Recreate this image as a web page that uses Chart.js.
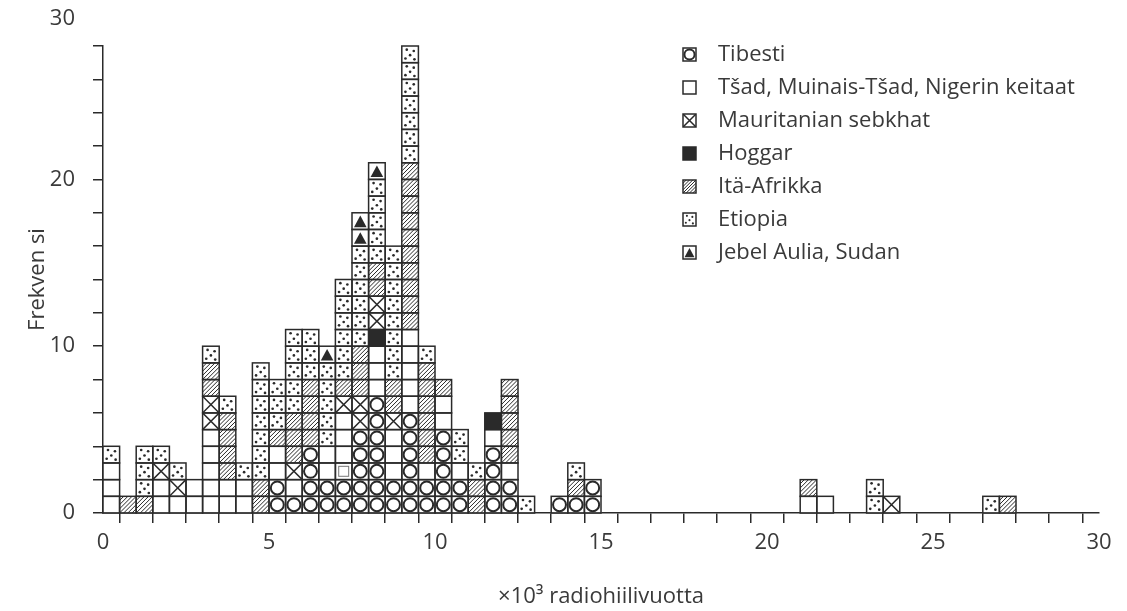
<!DOCTYPE html>
<html>
<head>
<meta charset="utf-8">
<script src="https://cdn.jsdelivr.net/npm/chart.js@4"></script>
<style>
html, body { margin: 0; padding: 0; background: #fff; }
</style>
</head>
<body>
<canvas id="graph1" width="1127" height="611"></canvas>
<script>
// sarakkeen vasen reuna (x 10^3 vuotta), leveys 0.5
var sarakkeet = [0, 0.5, 1, 1.5, 2, 2.5, 3, 3.5, 4, 4.5, 5, 5.5, 6, 6.5, 7, 7.5, 8, 8.5, 9, 9.5, 10, 10.5, 11, 11.5, 12, 12.5, 13.5, 14, 14.5, 21, 21.5, 23, 23.5, 26.5, 27];
var leveys = 0.5;

// ruutujen lukumaarat, pinottu tassa jarjestyksessa alhaalta ylos
var tibesti     = [0,0,0,0,0,0,0,0,0,0, 2,1,4,2,2,5,7,2,6,2, 5,2,0,4,2,0,1,1,2,0, 0,0,0,0,0];
var pikkuRuutu  = [0,0,0,0,0,0,0,0,0,0, 0,0,0,0,1,0,0,0,0,0, 0,0,0,0,0,0,0,0,0,0, 0,0,0,0,0];
var tsad        = [3,0,0,2,1,2,5,2,2,0, 2,1,0,2,3,0,3,3,5,1, 2,1,0,1,1,0,0,0,0,1, 1,0,0,0,0];
var hoggar      = [0,0,0,0,0,0,0,0,0,0, 0,0,0,0,0,0,1,0,0,0, 0,0,0,1,0,0,0,0,0,0, 0,0,0,0,0];
var mauritania  = [0,0,0,1,1,0,2,0,0,0, 0,1,0,0,1,2,2,1,0,0, 0,0,0,0,0,0,0,0,0,0, 0,0,1,0,0];
var itaAfrikka  = [0,1,1,0,0,0,2,4,0,2, 1,3,4,0,1,3,2,2,10,6, 1,0,2,0,5,0,0,1,0,1, 0,0,0,0,1];
var etiopia     = [1,0,3,1,1,0,1,1,1,7, 3,5,3,5,6,6,5,8,7,1, 0,2,1,0,0,1,0,1,0,0, 0,2,0,1,0];
var jebelAulia  = [0,0,0,0,0,0,0,0,0,0, 0,0,0,1,0,2,1,0,0,0, 0,0,0,0,0,0,0,0,0,0, 0,0,0,0,0];

var xTikit = [0, 5, 10, 15, 20, 25, 30];
var yTikit = [0, 10, 20, 30];

var selitteet = ['Tibesti', 'Tšad, Muinais-Tšad, Nigerin keitaat', 'Mauritanian sebkhat', 'Hoggar', 'Itä-Afrikka', 'Etiopia', 'Jebel Aulia, Sudan'];
var selitetyypit = ['O', 'W', 'X', 'F', 'H', 'D', 'T'];

var viiva = '#2a2a2a';
var teksti = '#3a3a3a';
var fontti = "'Open Sans', 'DejaVu Sans', sans-serif";
Chart.defaults.font.family = fontti;
Chart.defaults.color = teksti;

function piirraRuutu(ctx, tyyppi, x, y, w, h) {
    var cx = x + w / 2, cy = y + h / 2, m = Math.min(w, h);
    ctx.save();
    ctx.beginPath();
    ctx.rect(x, y, w, h);
    ctx.clip();
    ctx.strokeStyle = viiva;
    ctx.fillStyle = viiva;
    if (tyyppi === 'O') {
        ctx.lineWidth = 2;
        ctx.beginPath();
        ctx.arc(cx, cy, m * 0.39, 0, 2 * Math.PI);
        ctx.stroke();
    } else if (tyyppi === 'S') {
        ctx.lineWidth = 1;
        ctx.strokeStyle = '#777';
        ctx.strokeRect(cx - m * 0.3, cy - m * 0.3, m * 0.6, m * 0.6);
    } else if (tyyppi === 'F') {
        ctx.fillRect(x, y, w, h);
    } else if (tyyppi === 'X') {
        ctx.lineWidth = 1.5;
        ctx.beginPath();
        ctx.moveTo(x, y); ctx.lineTo(x + w, y + h);
        ctx.moveTo(x + w, y); ctx.lineTo(x, y + h);
        ctx.stroke();
    } else if (tyyppi === 'H') {
        ctx.lineWidth = 1;
        ctx.beginPath();
        for (var t = -h; t < w + h; t += m / 4) {
            ctx.moveTo(x + t, y + h);
            ctx.lineTo(x + t + h, y);
        }
        ctx.stroke();
    } else if (tyyppi === 'D') {
        var pisteet = [[0.3, 0.22], [0.72, 0.3], [0.5, 0.55], [0.22, 0.75], [0.76, 0.8]];
        pisteet.forEach(function (p) {
            ctx.beginPath();
            ctx.arc(x + p[0] * w, y + p[1] * h, Math.max(1, m * 0.08), 0, 2 * Math.PI);
            ctx.fill();
        });
    } else if (tyyppi === 'T') {
        ctx.beginPath();
        ctx.moveTo(x + w * 0.12, y + h * 0.86);
        ctx.lineTo(x + w * 0.88, y + h * 0.86);
        ctx.lineTo(x + w * 0.5, y + h * 0.16);
        ctx.closePath();
        ctx.fill();
    }
    ctx.restore();
    ctx.save();
    ctx.lineWidth = 1.5;
    ctx.strokeStyle = viiva;
    ctx.strokeRect(x, y, w, h);
    ctx.restore();
}

function sarja(nimi, tyyppi, arvot) {
    return {
        label: nimi,
        tyyppi: tyyppi,
        data: sarakkeet.map(function (s, i) { return { x: s + leveys / 2, y: arvot[i] || null }; }),
        backgroundColor: tyyppi === 'F' ? viiva : '#fff',
        borderWidth: 0,
        categoryPercentage: 1,
        barPercentage: 1
    };
}

var ruudut = {
    id: 'ruudut',
    afterDatasetsDraw: function (chart) {
        var ctx = chart.ctx, ys = chart.scales.y;
        chart.data.datasets.forEach(function (ds, di) {
            var meta = chart.getDatasetMeta(di);
            meta.data.forEach(function (bar, i) {
                var n = ds.data[i].y;
                if (!n) return;
                var p = bar.getProps(['x', 'base', 'width'], true);
                var alku = Math.round(ys.getValueForPixel(p.base));
                for (var k = 0; k < n; k++) {
                    var ya = ys.getPixelForValue(alku + k);
                    var yy = ys.getPixelForValue(alku + k + 1);
                    piirraRuutu(ctx, ds.tyyppi, p.x - p.width / 2, yy, p.width, ya - yy);
                }
            });
        });
    },
    afterDraw: function (chart) {
        var ctx = chart.ctx, ys = chart.scales.y;
        // ylin y-akselin teksti
        ctx.save();
        ctx.font = '22px ' + fontti;
        ctx.fillStyle = teksti;
        ctx.textAlign = 'right';
        ctx.textBaseline = 'middle';
        ctx.fillText(String(yTikit[yTikit.length - 1]), ys.right - 28, ys.getPixelForValue(ys.max) - 27);
        // selite
        var lx = 683, ly = 55, askel = 33;
        ctx.textAlign = 'left';
        selitteet.forEach(function (t, i) {
            var yk = ly + i * askel;
            piirraRuutu(ctx, selitetyypit[i], lx, yk - 7, 13, 13);
            ctx.fillStyle = teksti;
            ctx.fillText(t, lx + 35, yk);
        });
        ctx.restore();
    }
};

var ctx = document.getElementById('graph1').getContext('2d');
var config = {
    type: 'bar',
    data: {
        datasets: [
            sarja('Tibesti', 'O', tibesti),
            sarja('Tšad (pieni ruutu)', 'S', pikkuRuutu),
            sarja('Tšad, Muinais-Tšad, Nigerin keitaat', 'W', tsad),
            sarja('Hoggar', 'F', hoggar),
            sarja('Mauritanian sebkhat', 'X', mauritania),
            sarja('Itä-Afrikka', 'H', itaAfrikka),
            sarja('Etiopia', 'D', etiopia),
            sarja('Jebel Aulia, Sudan', 'T', jebelAulia)
        ]
    },
    options: {
        responsive: false,
        animation: false,
        devicePixelRatio: 1,
        layout: { padding: { top: 46, right: 28, left: 0, bottom: 0 } },
        plugins: { legend: { display: false }, tooltip: { enabled: false } },
        scales: {
            x: {
                type: 'linear',
                min: 0,
                max: 30,
                stacked: true,
                offset: false,
                ticks: {
                    stepSize: 1,
                    autoSkip: false,
                    maxRotation: 0,
                    padding: 7,
                    font: { size: 22 },
                    color: teksti,
                    callback: function (v) { return xTikit.indexOf(v) >= 0 ? String(v) : ''; }
                },
                grid: { drawOnChartArea: false, drawTicks: true, tickLength: 10, color: viiva, lineWidth: 1.5 },
                border: { display: true, color: viiva, width: 1.5 },
                title: { display: true, text: '×10³ radiohiilivuotta', font: { size: 22 }, color: teksti, padding: { top: 0, bottom: 1 } },
                afterFit: function (s) { s.height = 98; }
            },
            y: {
                min: 0,
                max: 28,
                stacked: true,
                ticks: {
                    stepSize: 2,
                    autoSkip: false,
                    padding: 18,
                    font: { size: 22 },
                    color: teksti,
                    callback: function (v) { return yTikit.indexOf(v) >= 0 ? String(v) : ''; }
                },
                grid: { drawOnChartArea: false, drawTicks: true, tickLength: 10, color: viiva, lineWidth: 1.5 },
                border: { display: true, color: viiva, width: 1.5 },
                title: { display: true, text: 'Frekven si', font: { size: 22 }, color: teksti, padding: { top: 25, bottom: 0 } },
                afterFit: function (s) { s.width = 103; }
            }
        }
    },
    plugins: [ruudut]
};
var graph1 = new Chart(ctx, config);
</script>
</body>
</html>
